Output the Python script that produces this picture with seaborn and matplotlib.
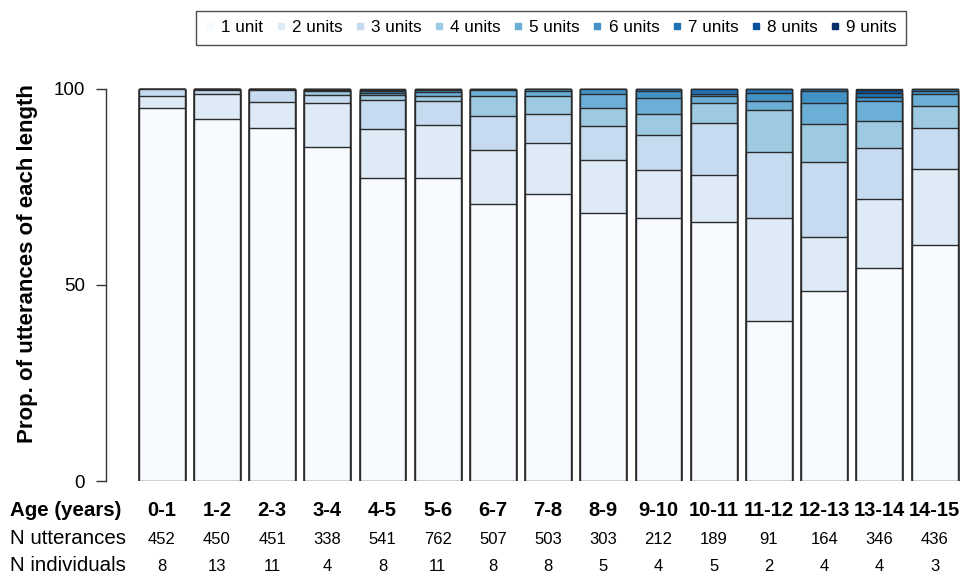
import matplotlib
matplotlib.use("Agg")
import matplotlib.pyplot as plt
from matplotlib.lines import Line2D
from matplotlib.transforms import blended_transform_factory
import numpy as np
import pandas as pd
import seaborn as sns

# Age bins and sample sizes
ages = ["0-1", "1-2", "2-3", "3-4", "4-5", "5-6", "6-7", "7-8",
        "8-9", "9-10", "10-11", "11-12", "12-13", "13-14", "14-15"]
n_utterances = [452, 450, 451, 338, 541, 762, 507, 503, 303, 212, 189, 91, 164, 346, 436]
n_individuals = [8, 13, 11, 4, 8, 11, 8, 8, 5, 4, 5, 2, 4, 4, 3]

# Percentage of utterances of each length (units) per age bin
len1 = [95.1, 92.3, 90.1, 85.2, 77.3, 77.2, 70.7, 73.2, 68.4, 67.2, 66.1, 40.7, 48.5, 54.3, 60.2]
len2 = [3.0, 6.3, 6.7, 11.2, 12.5, 13.6, 13.7, 13.1, 13.5, 12.2, 11.9, 26.4, 13.8, 17.6, 19.4]
len3 = [1.9, 1.2, 3.0, 2.0, 7.4, 6.1, 8.8, 7.3, 8.7, 8.9, 13.3, 16.7, 19.0, 13.0, 10.4]
len4 = [0.0, 0.2, 0.2, 1.0, 1.3, 1.4, 5.0, 4.6, 4.6, 5.3, 5.2, 10.8, 9.7, 7.0, 5.7]
len5 = [0.0, 0.0, 0.0, 0.4, 0.6, 1.0, 1.5, 1.3, 3.5, 4.2, 1.8, 2.4, 5.4, 5.1, 2.9]
len6 = [0.0, 0.0, 0.0, 0.2, 0.4, 0.5, 0.1, 0.4, 1.3, 1.6, 0.3, 2.1, 3.0, 1.0, 0.8]
len7 = [0.0, 0.0, 0.0, 0.0, 0.3, 0.2, 0.1, 0.1, 0.0, 0.5, 1.4, 0.9, 0.6, 1.0, 0.6]
len8 = [0.0, 0.0, 0.0, 0.0, 0.1, 0.0, 0.0, 0.0, 0.0, 0.1, 0.0, 0.0, 0.0, 0.8, 0.0]
len9 = [0.0, 0.0, 0.0, 0.0, 0.1, 0.0, 0.1, 0.0, 0.0, 0.0, 0.0, 0.0, 0.0, 0.2, 0.0]

length_labels = ["1 unit", "2 units", "3 units", "4 units", "5 units",
                 "6 units", "7 units", "8 units", "9 units"]
series = [len1, len2, len3, len4, len5, len6, len7, len8, len9]

colors = ["#f7fbff", "#deebf7", "#c6dbef", "#9ecae1", "#6baed6",
          "#4292c6", "#2171b5", "#08519c", "#08306b"]

sns.set_style("ticks")
plt.rcParams["font.family"] = ["Liberation Sans", "DejaVu Sans"]
plt.rcParams["text.color"] = "black"
plt.rcParams["axes.labelcolor"] = "black"
plt.rcParams["ytick.color"] = "black"
plt.rcParams["xtick.color"] = "black"

fig = plt.figure(figsize=(9.73, 5.76), dpi=100)
ax_left, ax_right = 106 / 973, 960 / 973
ax_bottom, ax_top = 1 - 481 / 576, 1 - 87.8 / 576
ax = fig.add_axes([ax_left, ax_bottom, ax_right - ax_left, ax_top - ax_bottom])

# Stacked bars: draw cumulative totals from the longest length down
df = pd.DataFrame({"age": ages})
cum = np.round(np.cumsum(np.array(series), axis=0), 6)
for k in range(len(series) - 1, -1, -1):
    df["value"] = cum[k]
    sns.barplot(data=df, x="age", y="value", order=ages, color=colors[k],
                saturation=1, width=0.83, edgecolor="#2b2b2b", linewidth=1.0,
                errorbar=None, ax=ax)

ax.set_xlim(-1.01, 14.46)
ax.set_ylim(0, 100.3)
ax.set_yticks([0, 50, 100])
ax.spines["left"].set_bounds(0, 100)
ax.tick_params(axis="y", labelsize=13.5, length=7, width=1, color="#333333",
               pad=8)
ax.tick_params(axis="x", bottom=False, labelbottom=False)
ax.set_xlabel("")
ax.set_ylabel("")
for side in ["top", "right", "bottom"]:
    ax.spines[side].set_visible(False)
ax.spines["left"].set_color("#333333")
ax.spines["left"].set_linewidth(1.0)

fig.text(28 / 973, 1 - 264 / 576, "Prop. of utterances of each length",
         rotation=90, ha="center", va="center", fontsize=16, fontweight="bold")

# Table of age bins and sample sizes below the bars
tr = blended_transform_factory(ax.transData, fig.transFigure)
row_y = [1 - 516 / 576, 1 - 544 / 576, 1 - 571 / 576]
fig.text(10 / 973, row_y[0], "Age (years)", fontsize=14.8, fontweight="bold",
         ha="left", va="baseline")
fig.text(10 / 973, row_y[1], "N utterances", fontsize=14.8,
         ha="left", va="baseline")
fig.text(10 / 973, row_y[2], "N individuals", fontsize=14.8,
         ha="left", va="baseline")
for i, (a, nu, ni) in enumerate(zip(ages, n_utterances, n_individuals)):
    ax.text(i, row_y[0], a, transform=tr, fontsize=14.5, fontweight="bold",
            ha="center", va="baseline")
    ax.text(i, row_y[1], str(nu), transform=tr, fontsize=12,
            ha="center", va="baseline")
    ax.text(i, row_y[2], str(ni), transform=tr, fontsize=12,
            ha="center", va="baseline")

handles = [Line2D([], [], marker="s", linestyle="", markersize=5,
                  markerfacecolor=c, markeredgecolor=c) for c in colors]
leg = fig.legend(handles, length_labels, loc="upper center",
                 bbox_to_anchor=(551 / 973, 1 - 11 / 576), ncol=9,
                 frameon=True, fancybox=False, fontsize=12.3,
                 handlelength=0.6, handletextpad=0.35, columnspacing=0.72,
                 borderpad=0.55, borderaxespad=0)
leg.get_frame().set_edgecolor("#222222")
leg.get_frame().set_linewidth(1.0)

fig.savefig("out.png", dpi=100)
